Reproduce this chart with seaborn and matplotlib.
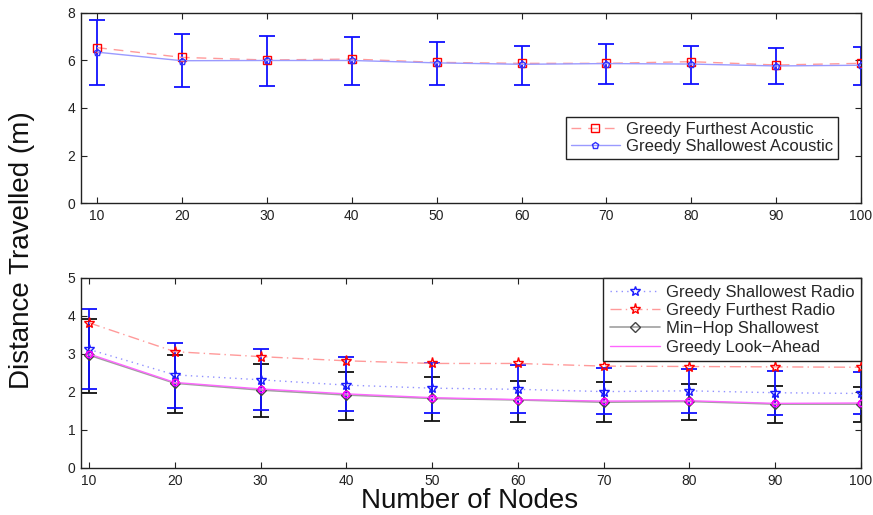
import numpy as np
import pandas as pd
import matplotlib
matplotlib.use('Agg')
import matplotlib.pyplot as plt
import seaborn as sns

sns.set_theme(style="ticks")
plt.rcParams['font.family'] = ['Liberation Sans', 'DejaVu Sans']

# ── DATA ────────────────────────────────────────────────
nodes = [10, 20, 30, 40, 50, 60, 70, 80, 90, 100]

# top panel: acoustic
furthest_acoustic = [6.54, 6.13, 6.02, 6.06, 5.92, 5.88, 5.88, 5.95, 5.81, 5.88]
shallowest_acoustic = [6.35, 5.99, 6.00, 6.00, 5.90, 5.84, 5.87, 5.85, 5.77, 5.80]
shallowest_acoustic_hi = [7.70, 7.12, 7.03, 6.97, 6.79, 6.61, 6.68, 6.61, 6.51, 6.55]
shallowest_acoustic_lo = [4.97, 4.87, 4.93, 4.97, 4.97, 4.97, 5.01, 5.01, 5.01, 4.97]

# bottom panel: radio
shallowest_radio = [3.12, 2.45, 2.32, 2.18, 2.10, 2.07, 2.01, 2.03, 1.98, 1.96]
shallowest_radio_hi = [4.18, 3.30, 3.13, 2.93, 2.75, 2.70, 2.62, 2.61, 2.56, 2.53]
shallowest_radio_lo = [2.07, 1.59, 1.53, 1.50, 1.44, 1.44, 1.41, 1.44, 1.39, 1.41]
furthest_radio = [3.82, 3.06, 2.93, 2.82, 2.75, 2.75, 2.68, 2.67, 2.66, 2.65]
minhop_shallowest = [2.97, 2.23, 2.05, 1.92, 1.83, 1.79, 1.73, 1.75, 1.68, 1.68]
minhop_hi = [3.92, 2.96, 2.73, 2.53, 2.39, 2.30, 2.25, 2.21, 2.16, 2.14]
minhop_lo = [1.98, 1.44, 1.35, 1.26, 1.24, 1.21, 1.21, 1.25, 1.18, 1.22]
look_ahead = [3.00, 2.25, 2.08, 1.95, 1.85, 1.80, 1.76, 1.77, 1.70, 1.71]

df_top = pd.DataFrame({'nodes': nodes,
                       'furthest': furthest_acoustic,
                       'shallowest': shallowest_acoustic})
df_bot = pd.DataFrame({'nodes': nodes,
                       'shallow_radio': shallowest_radio,
                       'furthest_radio': furthest_radio,
                       'minhop': minhop_shallowest,
                       'lookahead': look_ahead})

fig = plt.figure(figsize=(8.73, 5.15), dpi=100)
ax1 = fig.add_axes([0.0928, 0.6058, 0.8935, 0.369])
ax2 = fig.add_axes([0.0928, 0.0913, 0.8935, 0.369])


def style_axes(ax, xlim, ylim, yticks):
    ax.set_xlim(*xlim)
    ax.set_ylim(*ylim)
    ax.set_xticks(nodes)
    ax.set_yticks(yticks)
    ax.tick_params(direction='in', top=True, right=True, length=4,
                   width=0.8, labelsize=10, colors='#222222', pad=4)
    for s in ax.spines.values():
        s.set_visible(True)
        s.set_color('#222222')
        s.set_linewidth(1.0)
    ax.set_xlabel('')
    ax.set_ylabel('')


# ── TOP PANEL ───────────────────────────────────────────
sh = np.array(shallowest_acoustic)
ax1.errorbar(nodes, sh,
             yerr=[sh - np.array(shallowest_acoustic_lo),
                   np.array(shallowest_acoustic_hi) - sh],
             fmt='none', ecolor='#1010ff', elinewidth=1.3, capsize=6,
             capthick=1.3, zorder=2)
sns.lineplot(data=df_top, x='nodes', y='furthest', ax=ax1,
             color='#ff9a9a', linestyle=(0, (7, 5)), linewidth=1.0,
             marker='s', markersize=5.5, markeredgecolor='#ff0000',
             markerfacecolor='none', markeredgewidth=1.0,
             label='Greedy Furthest Acoustic', zorder=3)
sns.lineplot(data=df_top, x='nodes', y='shallowest', ax=ax1,
             color='#9a9aff', linestyle='-', linewidth=1.0,
             marker='p', markersize=4.5, markeredgecolor='#3030ff',
             markerfacecolor='none', markeredgewidth=1.0,
             label='Greedy Shallowest Acoustic', zorder=4)
style_axes(ax1, (8.1, 100), (0, 8), [0, 2, 4, 6, 8])
leg1 = ax1.legend(loc='upper left', bbox_to_anchor=(0.622, 0.453), fontsize=12,
                  frameon=True, fancybox=False, edgecolor='#222222',
                  borderpad=0.3, labelspacing=0.1, handlelength=2.9,
                  handletextpad=0.4, borderaxespad=0, framealpha=1)
leg1.get_frame().set_linewidth(1.0)

# ── BOTTOM PANEL ────────────────────────────────────────
mh = np.array(minhop_shallowest)
ax2.errorbar(nodes, mh,
             yerr=[mh - np.array(minhop_lo), np.array(minhop_hi) - mh],
             fmt='none', ecolor='#111111', elinewidth=1.3, capsize=6,
             capthick=1.3, zorder=2)
sr = np.array(shallowest_radio)
ax2.errorbar(nodes, sr,
             yerr=[sr - np.array(shallowest_radio_lo),
                   np.array(shallowest_radio_hi) - sr],
             fmt='none', ecolor='#1010ff', elinewidth=1.3, capsize=6,
             capthick=1.3, zorder=2.5)
sns.lineplot(data=df_bot, x='nodes', y='shallow_radio', ax=ax2,
             color='#9090ff', linestyle=(0, (1, 3)), linewidth=1.0,
             marker='*', markersize=7, markeredgecolor='#1a1aff',
             markerfacecolor='none', markeredgewidth=1.0,
             label='Greedy Shallowest Radio', zorder=3)
sns.lineplot(data=df_bot, x='nodes', y='furthest_radio', ax=ax2,
             color='#ff9a9a', linestyle=(0, (8, 3, 1, 3)), linewidth=1.0,
             marker='*', markersize=8, markeredgecolor='#ff0000',
             markerfacecolor='none', markeredgewidth=1.0,
             label='Greedy Furthest Radio', zorder=3)
sns.lineplot(data=df_bot, x='nodes', y='minhop', ax=ax2,
             color='#a0a0a0', linestyle='-', linewidth=1.2,
             marker='D', markersize=5.5, markeredgecolor='#444444',
             markerfacecolor='none', markeredgewidth=1.0,
             label='Min-Hop Shallowest', zorder=3)
sns.lineplot(data=df_bot, x='nodes', y='lookahead', ax=ax2,
             color='#ff66ff', linestyle='-', linewidth=1.0,
             label='Greedy Look-Ahead', zorder=4)
ax2.plot(nodes, look_ahead, linestyle='none', marker='o', markersize=4.5,
         markeredgecolor='#ff00ff', markerfacecolor='none',
         markeredgewidth=1.2, zorder=5)
style_axes(ax2, (9.07, 100), (0, 5), [0, 1, 2, 3, 4, 5])

handles, labels = ax2.get_legend_handles_labels()
leg2 = ax2.legend(handles[:4], ['Greedy Shallowest Radio', 'Greedy Furthest Radio',
                                'Min\u2212Hop Shallowest', 'Greedy Look\u2212Ahead'],
                  loc='upper left', bbox_to_anchor=(0.669, 1.0), fontsize=12,
                  frameon=True, fancybox=False, edgecolor='#222222',
                  borderpad=0.4, labelspacing=0.2, handlelength=3.0,
                  handletextpad=0.4, borderaxespad=0, framealpha=1)
leg2.get_frame().set_linewidth(1.0)

# ── SHARED LABELS ───────────────────────────────────────
fig.text(0.025, 0.515, 'Distance Travelled (m)', rotation=90, fontsize=20,
         ha='center', va='center', color='#111111')
fig.text(0.538, 0.028, 'Number of Nodes', fontsize=20,
         ha='center', va='center', color='#111111')

fig.savefig('out.png', dpi=100)
